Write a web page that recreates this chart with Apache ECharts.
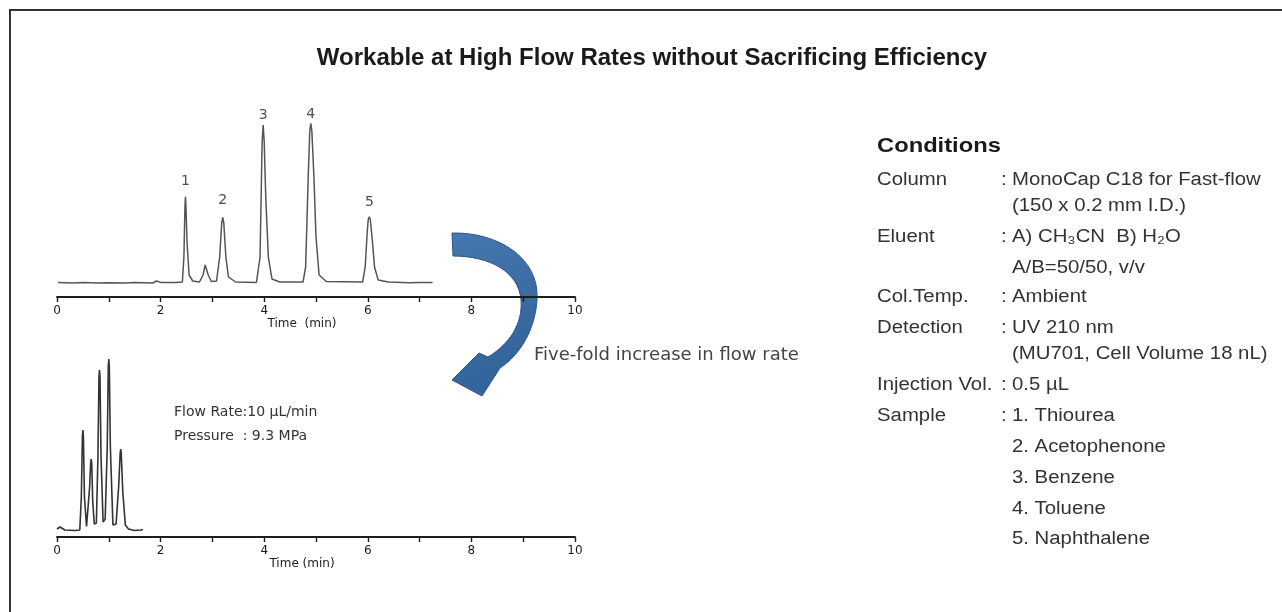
<!DOCTYPE html>
<html>
<head>
<meta charset="utf-8">
<title>Workable at High Flow Rates without Sacrificing Efficiency</title>
<script src="https://cdn.jsdelivr.net/npm/echarts@6/dist/echarts.min.js"></script>
<style>
  html, body { margin: 0; padding: 0; background: #ffffff; }
  #chart { width: 1282px; height: 612px; }
</style>
</head>
<body>
<div id="chart"></div>
<script>
// Chromatogram at the standard flow rate: [time (min), detector signal]
const topTrace = [
  [0.02, 14.5], [0.3, 14.0], [0.5, 14.4], [0.8, 13.9], [1.0, 14.2], [1.3, 14.0], [1.5, 14.4],
  [1.85, 14.0], [1.92, 16.0], [2.0, 14.6], [2.3, 14.5], [2.42, 15.0], [2.45, 40], [2.47, 90],
  [2.48, 100.3], [2.49, 90], [2.51, 55], [2.55, 22], [2.62, 16], [2.75, 15], [2.82, 22],
  [2.86, 32], [2.87, 33.7], [2.88, 32], [2.92, 22], [2.98, 15.5], [3.08, 16], [3.14, 40],
  [3.18, 74], [3.20, 79.7], [3.22, 74], [3.26, 40], [3.31, 20], [3.45, 15], [3.85, 14.5],
  [3.92, 40], [3.96, 155], [3.98, 172], [4.00, 155], [4.03, 100], [4.08, 40], [4.15, 18],
  [4.3, 15], [4.75, 15], [4.8, 30], [4.85, 120], [4.88, 166], [4.90, 173.7], [4.92, 166],
  [4.96, 120], [5.0, 60], [5.06, 22], [5.2, 15.5], [5.9, 15], [5.95, 30], [5.99, 66],
  [6.01, 78], [6.03, 80.3], [6.05, 77], [6.09, 55], [6.13, 30], [6.2, 17], [6.4, 15],
  [6.8, 14.3], [7.0, 14.6], [7.25, 14.5]
];

// Chromatogram after the five-fold flow increase
const bottomTrace = [
  [0.0, 8], [0.06, 10], [0.15, 7], [0.35, 6.5], [0.44, 7], [0.47, 40], [0.49, 100], [0.50, 107],
  [0.51, 100], [0.53, 40], [0.57, 10.5], [0.60, 12], [0.63, 50], [0.65, 74], [0.66, 78],
  [0.67, 74], [0.69, 35], [0.72, 13], [0.76, 14], [0.79, 80], [0.81, 160], [0.82, 167],
  [0.83, 160], [0.85, 80], [0.89, 15], [0.93, 18], [0.97, 90], [0.99, 170], [1.00, 178],
  [1.01, 170], [1.03, 90], [1.08, 12], [1.14, 13], [1.19, 50], [1.22, 84], [1.23, 88],
  [1.24, 84], [1.27, 45], [1.32, 12], [1.38, 8], [1.5, 6.5], [1.62, 7], [1.66, 7.5]
];

// Peak numbering on the upper chromatogram
const peakNames = ['1', '2', '3', '4', '5'];
const peakTimes = [2.48, 3.20, 3.98, 4.90, 6.03];

// Time axis
const timeMin = 0;
const timeMax = 10;
const timeStep = 1;

const chartTitle = 'Workable at High Flow Rates without Sacrificing Efficiency';
const arrowText = 'Five-fold increase in flow rate';
const runInfo = ['Flow Rate:10 \u00b5L/min', 'Pressure  : 9.3 MPa'];

const condHeading = 'Conditions';
const condLabels = ['Column', '', 'Eluent', '', 'Col.Temp.', 'Detection', '', 'Injection Vol.', 'Sample', '', '', '', ''];
const condValues = [
  'MonoCap C18 for Fast-flow', '(150 x 0.2 mm I.D.)',
  'A) CH\u2083CN  B) H\u2082O', 'A/B=50/50, v/v',
  'Ambient',
  'UV 210 nm', '(MU701, Cell Volume 18 nL)',
  '0.5 \u00b5L',
  '1. Thiourea', '2. Acetophenone', '3. Benzene', '4. Toluene', '5. Naphthalene'
];

// ---- layout / style ----
const labelGap = [8, 10, 3, 2, 7];
const condRowY = [180, 206, 237, 268, 297, 328, 354, 385, 416, 447, 478, 509, 539];
const sansArial = '"Liberation Sans", Arial, "DejaVu Sans", sans-serif';
const sansTahoma = '"DejaVu Sans", Verdana, sans-serif';
const condStretch = 1.13;

// Curved arrow outline (page pixels)
const arrowPath = 'M 452 233 C 498 232, 540 258, 537 300 C 535 330, 520 355, 500 368 L 482 396 L 452 380 L 479 353 L 488 357 C 508 345, 523 325, 521 300 C 519 272, 490 256, 453 256 Z';
echarts.graphic.registerShape('curvedArrow', echarts.graphic.extendPath(arrowPath, {}));

// Apex points of the numbered peaks, taken from the trace
const peakPoints = peakTimes.map(function (t, k) {
  const p = topTrace.find(function (q) { return q[0] === t; });
  return {
    value: p,
    label: { distance: labelGap[k], formatter: peakNames[k] }
  };
});

function timeAxis(gridIndex, nameText) {
  return {
    type: 'value', gridIndex: gridIndex,
    min: timeMin, max: timeMax, interval: timeStep,
    name: nameText, nameLocation: 'middle', nameGap: 17,
    nameTextStyle: { fontFamily: sansTahoma, fontSize: 12, color: '#222', padding: [0, 28, 0, 0] },
    axisLine: { show: true, lineStyle: { color: '#1e1e1e', width: 1.8 } },
    axisTick: { show: true, length: 5, lineStyle: { color: '#1e1e1e', width: 1.4 } },
    axisLabel: {
      margin: 8, fontFamily: sansTahoma, fontSize: 12, color: '#1a1a1a',
      formatter: function (v) { return v % 2 === 0 ? String(v) : ''; }
    },
    splitLine: { show: false }
  };
}

function signalAxis(gridIndex) {
  return { type: 'value', gridIndex: gridIndex, min: 0, max: 180, show: false };
}

function condText(x, y, text, font, color) {
  return {
    type: 'text', x: x, y: y, scaleX: condStretch, originX: 0, originY: 0,
    style: { text: text, font: font, fill: color, textVerticalAlign: 'middle' }
  };
}

const condGraphics = [condText(877, 146, condHeading, 'bold 21px ' + sansArial, '#1a1a1a')];
condLabels.forEach(function (lab, i) {
  if (lab) {
    condGraphics.push(condText(877, condRowY[i], lab, '18px ' + sansArial, '#333'));
    condGraphics.push(condText(1001, condRowY[i], ':', '18px ' + sansArial, '#333'));
  }
  condGraphics.push(condText(1012, condRowY[i], condValues[i], '18px ' + sansArial, '#333'));
});

const chart = echarts.init(document.getElementById('chart'), null, { renderer: 'canvas' });
chart.setOption({
  backgroundColor: '#ffffff',
  animation: false,
  grid: [
    { left: 57, width: 518, top: 117, height: 180 },
    { left: 57, width: 518, top: 357, height: 180 }
  ],
  xAxis: [timeAxis(0, 'Time  (min)'), timeAxis(1, 'Time (min)')],
  yAxis: [signalAxis(0), signalAxis(1)],
  series: [
    {
      type: 'line', xAxisIndex: 0, yAxisIndex: 0, data: topTrace,
      showSymbol: false, symbol: 'none',
      lineStyle: { color: '#555', width: 1.5 }
    },
    {
      type: 'scatter', xAxisIndex: 0, yAxisIndex: 0, data: peakPoints,
      symbolSize: 0, silent: true,
      label: { show: true, position: 'top', fontFamily: sansTahoma, fontSize: 14, color: '#222' }
    },
    {
      type: 'line', xAxisIndex: 1, yAxisIndex: 1, data: bottomTrace,
      showSymbol: false, symbol: 'none',
      lineStyle: { color: '#333', width: 1.6 }
    }
  ],
  graphic: [
    // frame
    {
      type: 'polyline',
      shape: { points: [[10, 612], [10, 10], [1282, 10]] },
      style: { stroke: '#333', lineWidth: 2, fill: null }
    },
    {
      type: 'text', x: 652, y: 58,
      style: { text: chartTitle, font: 'bold 24px ' + sansArial, fill: '#1a1a1a', textAlign: 'center', textVerticalAlign: 'middle' }
    },
    // curved arrow between the two runs
    {
      type: 'curvedArrow',
      style: {
        fill: new echarts.graphic.LinearGradient(0, 0, 1, 1, [
          { offset: 0, color: '#4677b0' },
          { offset: 1, color: '#2f5f96' }
        ]),
        stroke: '#2c5688', lineWidth: 1
      }
    },
    {
      type: 'text', x: 534, y: 355,
      style: { text: arrowText, font: '18px ' + sansTahoma, fill: '#444', textVerticalAlign: 'middle' }
    },
    {
      type: 'text', x: 174, y: 412,
      style: { text: runInfo[0], font: '14px ' + sansTahoma, fill: '#333', textVerticalAlign: 'middle' }
    },
    {
      type: 'text', x: 174, y: 436,
      style: { text: runInfo[1], font: '14px ' + sansTahoma, fill: '#333', textVerticalAlign: 'middle' }
    }
  ].concat(condGraphics)
});
</script>
</body>
</html>
